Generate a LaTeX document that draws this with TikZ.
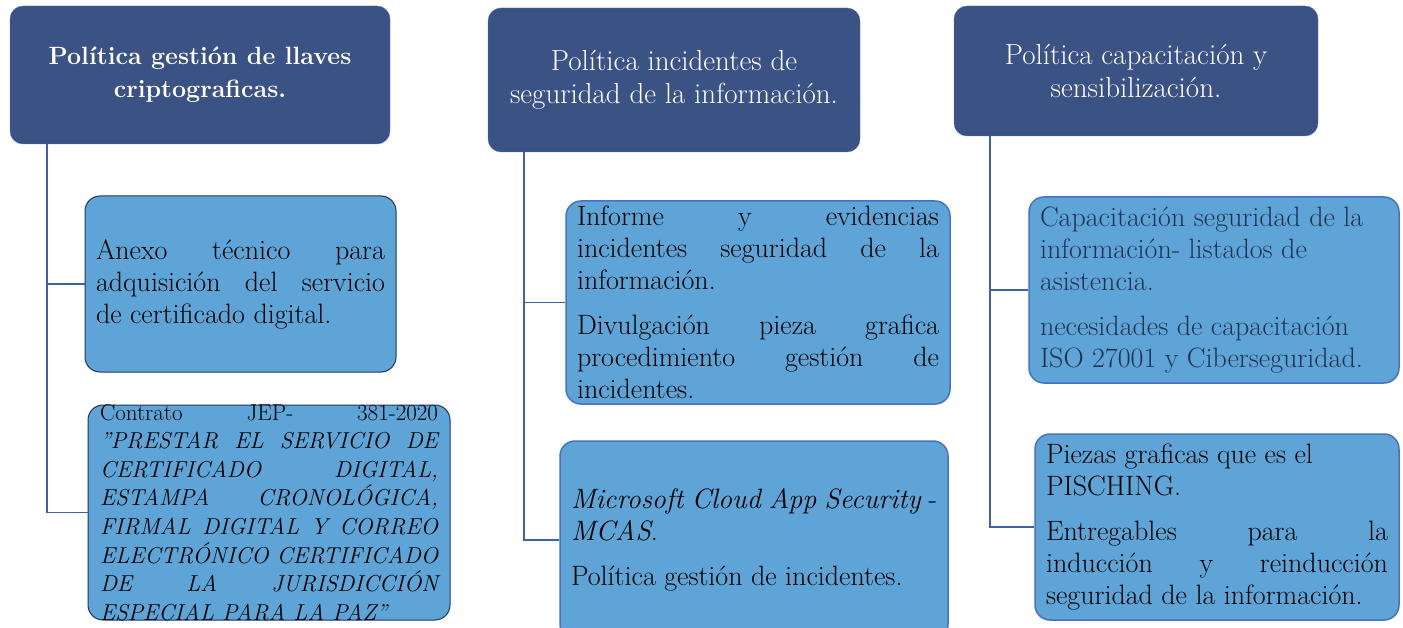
\documentclass[tikz,border=0pt]{standalone}
\usetikzlibrary{positioning}

\definecolor{headblue}{RGB}{59,82,132}
\definecolor{itemblue}{RGB}{94,164,214}
\definecolor{itemedge}{RGB}{68,114,196}
\definecolor{darkedge}{RGB}{32,52,96}
\definecolor{linkblue}{RGB}{64,96,168}
\definecolor{navytext}{RGB}{30,52,84}

\setlength{\parindent}{0pt}
\hyphenpenalty=10000

\begin{document}
\begin{tikzpicture}[x=1pt,y=-1pt]

	\tikzstyle{head} = [rectangle, rounded corners=13pt, fill=headblue, draw=headblue!85!white, text=white, align=center, font=\fontsize{29}{33}\selectfont]
	\tikzstyle{item} = [rectangle, rounded corners=15pt, fill=itemblue, draw=itemedge, line width=1.5pt, align=justify, inner xsep=11pt, font=\fontsize{28}{32}\selectfont]
	\tikzstyle{dark item} = [item, draw=darkedge, line width=1pt]
	\tikzstyle{link} = [draw=linkblue, line width=1.8pt]

	\clip (0,0) rectangle (1403,628);

	% headers
	\node [head, minimum width=380pt, minimum height=138pt, font=\fontsize{25}{33}\selectfont\bfseries] (p1) at (200,75)
		{Política gestión de llaves\\criptograficas.};
	\node [head, minimum width=372pt, minimum height=144pt] (p2) at (674,80)
		{Política incidentes de\\seguridad de la información.};
	\node [head, minimum width=364pt, minimum height=130pt] (p3) at (1136,71)
		{Política capacitación y\\sensibilización.};

	% column 1
	\node [dark item, minimum width=311pt, minimum height=176pt, text width=289pt] (i1a) at (240.5,284)
		{Anexo técnico para\linebreak adquisición del servicio\linebreak de certificado digital.};
	\node [dark item, minimum width=362pt, minimum height=215pt, text width=338pt, inner ysep=-8pt,
		font=\fontsize{23}{28.6}\selectfont] (i1b) at (269,512.5)
		{Contrato JEP- 381-2020\linebreak \textit{"PRESTAR EL SERVICIO DE\linebreak CERTIFICADO DIGITAL,\linebreak ESTAMPA CRONOLÓGICA,\linebreak FIRMAL DIGITAL Y CORREO\linebreak ELECTRÓNICO CERTIFICADO\linebreak DE LA JURISDICCIÓN\linebreak ESPECIAL PARA LA PAZ"}};

	% column 2
	\node [item, minimum width=384pt, minimum height=203pt, text width=362pt, inner ysep=0pt] (i2a) at (758,302.5)
		{Informe y evidencias\linebreak incidentes seguridad de la\linebreak información.\par\vspace{13pt}
		Divulgación pieza grafica\linebreak procedimiento gestión de\linebreak incidentes.};
	\node [item, minimum width=388pt, minimum height=198pt, text width=366pt] (i2b) at (754,540)
		{\textit{Microsoft Cloud App Security} -\linebreak \textit{MCAS}.\par\vspace{13pt}
		Política gestión de incidentes.};

	% column 3
	\node [item, minimum width=368pt, minimum height=186pt, text width=348pt, text=navytext] (i3a) at (1214,290)
		{Capacitación seguridad de la\newline información- listados de\newline asistencia.\par\vspace{13pt}
		necesidades de capacitación\newline ISO 27001 y Ciberseguridad.};
	\node [item, minimum width=362pt, minimum height=186pt, text width=342pt] (i3b) at (1217,527)
		{Piezas graficas que es el\newline PISCHING.\par\vspace{13pt}
		Entregables para la\linebreak inducción y reinducción\linebreak seguridad de la información.};

	% connectors
	\draw [link] ([xshift=37pt]p1.south west) |- (i1a.west);
	\draw [link] ([xshift=37pt]p1.south west) |- (i1b.west);
	\draw [link] ([xshift=36pt]p2.south west) |- (i2a.west);
	\draw [link] ([xshift=36pt]p2.south west) |- (i2b.west);
	\draw [link] ([xshift=36pt]p3.south west) |- (i3a.west);
	\draw [link] ([xshift=36pt]p3.south west) |- (i3b.west);

\end{tikzpicture}
\end{document}
